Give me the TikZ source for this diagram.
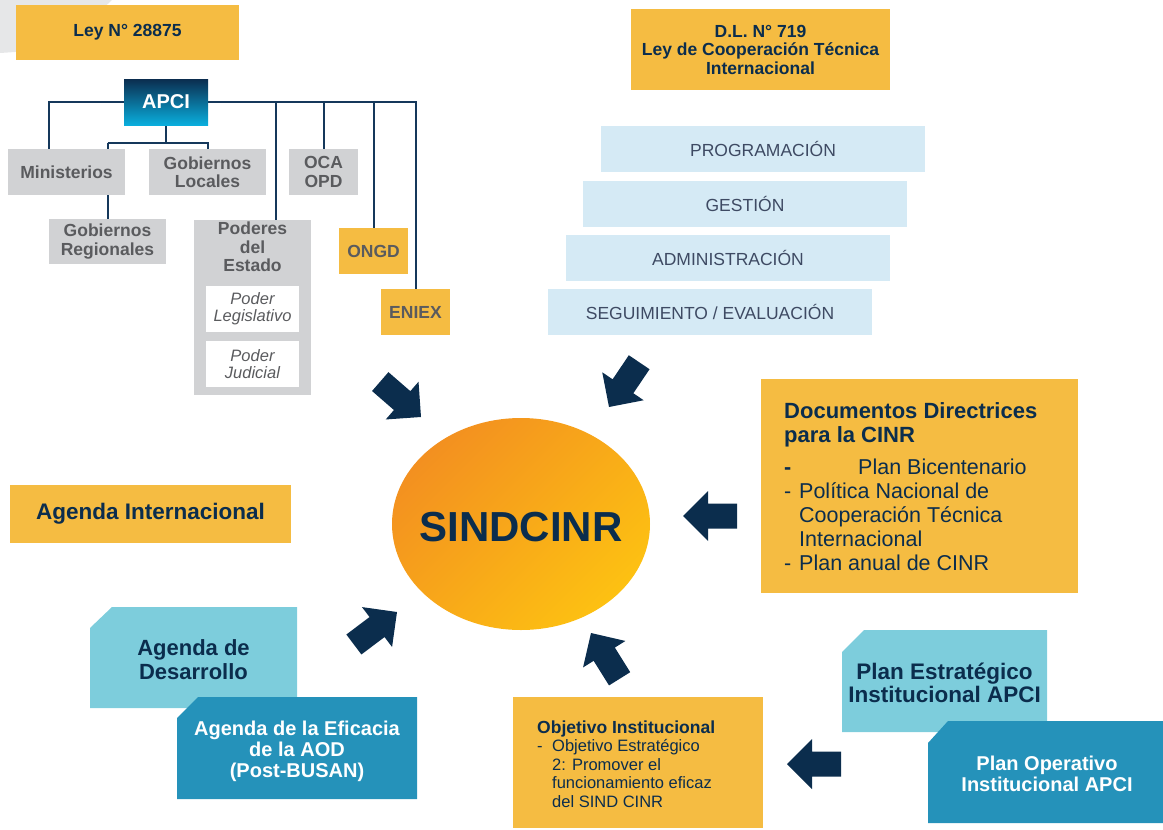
\documentclass[tikz,border=0pt]{standalone}
\usepackage{fontspec}
\setmainfont{Liberation Sans}
\usetikzlibrary{shapes.geometric}
\definecolor{ylw}{HTML}{F5BC42}
\definecolor{navy}{HTML}{0B2D4D}
\definecolor{grayb}{HTML}{D1D2D4}
\definecolor{grayt}{HTML}{5A5B5E}
\definecolor{lblue}{HTML}{D5EAF5}
\definecolor{lbtxt}{HTML}{3E4A63}
\definecolor{cyanl}{HTML}{7DCDDC}
\definecolor{cyand}{HTML}{2592BA}
\definecolor{bggray}{HTML}{E6E7E8}
\definecolor{linec}{HTML}{15385B}
\definecolor{ora}{HTML}{F39020}
\definecolor{yel}{HTML}{FDC112}
\definecolor{apcitop}{HTML}{0B2D4F}
\definecolor{apcibot}{HTML}{0AAEDD}
\pgfdeclarelayer{bg}
\pgfsetlayers{bg,main}
\begin{document}
\begin{tikzpicture}[x=1pt,y=-1pt,
  box/.style={inner sep=0pt, align=center},
  ybox/.style={box, fill=ylw},
  gbox/.style={box, fill=grayb, text=grayt},
  lbox/.style={box, fill=lblue, text=lbtxt, minimum width=324pt, minimum height=46pt, font=\fontsize{17.5}{19}\selectfont},
  tree/.style={draw=linec, line width=2pt},
  fbold/.style={font=\fontsize{17.5}{18.5}\selectfont\bfseries},
  barrow/.pic={\fill[navy] (0,0) -- (-25,25) -- (-25,12.5) -- (-54,12.5) -- (-54,-12.5) -- (-25,-12.5) -- (-25,-25) -- cycle;}
]
\useasboundingbox (0,0) rectangle (1163,830);
\fill[bggray] (0,0) -- (112,0) -- (60,49) -- (0,53) -- cycle;

% top-left tree
\node[ybox, minimum width=223pt, minimum height=55pt, text=navy, fbold] (ley) at (127.5,32.5) {Ley N° 28875};
\node[box, minimum width=84pt, minimum height=46pt, top color=apcitop, bottom color=apcibot, text=white, font=\fontsize{20}{22}\selectfont\bfseries] (apci) at (166,102) {APCI};
\node[gbox, minimum width=117pt, minimum height=46pt, fbold] (min) at (66.5,172) {Ministerios};
\node[gbox, minimum width=117pt, minimum height=46pt, fbold] (gobl) at (207.5,172) {Gobiernos\\Locales};
\node[gbox, minimum width=69pt, minimum height=46pt, fbold] (oca) at (323.5,172) {OCA\\OPD};
\node[gbox, minimum width=117pt, minimum height=45pt, fbold] (gobr) at (107.5,241.5) {Gobiernos\\Regionales};
\node[gbox, minimum width=117pt, minimum height=175pt] (pod) at (252.5,307.5) {};
\node[box, text=grayt, fbold] (podt) at (252.5,247) {Poderes\\del\\Estado};
\node[box, fill=white, text=grayt, minimum width=93pt, minimum height=46pt, font=\fontsize{16.5}{17}\selectfont\itshape] (leg) at (252.5,309) {Poder\\Legislativo};
\node[box, fill=white, text=grayt, minimum width=93pt, minimum height=46pt, font=\fontsize{16.5}{17}\selectfont\itshape] (jud) at (252.5,364) {Poder\\Judicial};
\node[ybox, text=grayt, minimum width=69pt, minimum height=46pt, fbold] (ongd) at (373.5,251) {ONGD};
\node[ybox, text=grayt, minimum width=69pt, minimum height=46pt, fbold] (eniex) at (415.5,312) {ENIEX};

\begin{pgfonlayer}{bg}
\draw[tree] (apci.west) -| ([xshift=-17.5pt]min.north);
\draw[tree] (apci.east) -| (eniex.north);
\draw[tree] (apci.east -| ongd.north) -- (ongd.north);
\draw[tree] (apci.east -| oca.north) -- (oca.north);
\draw[tree] ([xshift=23.5pt]pod.north |- apci.east) -- ([xshift=23.5pt]pod.north);
\draw[tree] (apci.south) -- ++(0,18) coordinate (fork);
\draw[tree] (fork -| gobr.north) -- (fork -| gobl.north) -- (gobl.north);
\draw[tree] (fork -| gobr.north) -- (gobr.north);
\end{pgfonlayer}

% top-right
\node[ybox, minimum width=259pt, minimum height=81pt, text=navy, fbold] (dl) at (760.5,49.5) {D.L. N° 719\\Ley de Cooperación Técnica\\Internacional};
\node[lbox] (prog) at (763,149) {PROGRAMACIÓN};
\node[lbox] (gest) at (745,204) {GESTIÓN};
\node[lbox] (adm) at (728,258) {ADMINISTRACIÓN};
\node[lbox] (seg) at (710,312) {SEGUIMIENTO / EVALUACIÓN};

% right documents
\node[ybox, minimum width=317pt, minimum height=214pt] (doc) at (919.5,486) {};
\node[anchor=north west, inner sep=0pt, text=navy, align=left, font=\fontsize{22}{24}\selectfont\bfseries] (doct) at (784,402) {Documentos Directrices\\para la CINR};
\node[anchor=north west, inner sep=0pt, text=navy, align=left, font=\fontsize{21.5}{24}\selectfont] (docl) at (784,458.5) {\makebox[74pt][l]{\bfseries -}Plan Bicentenario\\\makebox[15pt][l]{-}Política Nacional de\\\hspace*{15pt}Cooperación Técnica\\\hspace*{15pt}Internacional\\\makebox[15pt][l]{-}Plan anual de CINR};

% left agenda
\node[ybox, minimum width=281pt, minimum height=58pt, text=navy, font=\fontsize{22.5}{24}\selectfont\bfseries] (agi) at (150.5,514) {Agenda Internacional};

% center
\node[ellipse, minimum width=258pt, minimum height=212pt, inner sep=0pt, top color=ora, bottom color=yel, shading angle=45] (sind) at (521,524) {};
\node[inner sep=0pt, text=navy, font=\fontsize{42}{44}\selectfont\bfseries] (sindt) at (521,527) {SINDCINR};

% bottom-left
\fill[cyanl] (90,628) -- (112,607) -- (297,607) -- (297,708) -- (90,708) -- cycle;
\node[box, text=navy, font=\fontsize{22}{24}\selectfont\bfseries] (agd) at (193.5,660) {Agenda de\\Desarrollo};
\fill[cyand] (177,718) -- (198,697) -- (417,697) -- (417,799) -- (177,799) -- cycle;
\node[box, text=white, font=\fontsize{20}{21}\selectfont\bfseries] (age) at (297,751) {Agenda de la Eficacia\\de la AOD\\(Post-BUSAN)};

% bottom-right
\fill[cyanl] (842,652) -- (864,630) -- (1047,630) -- (1047,732) -- (842,732) -- cycle;
\node[box, text=navy, font=\fontsize{22.5}{22.5}\selectfont\bfseries] (pe) at (944.5,683) {Plan Estratégico\\Institucional APCI};
\fill[cyand] (928,743) -- (948,721) -- (1163,721) -- (1163,823) -- (928,823) -- cycle;
\node[box, text=white, font=\fontsize{20}{21}\selectfont\bfseries] (po) at (1047,774) {Plan Operativo\\Institucional APCI};

\node[ybox, minimum width=250pt, minimum height=131pt] (obj) at (638,762.5) {};
\node[anchor=north west, inner sep=0pt, text=navy, align=left, font=\fontsize{16.5}{18.5}\selectfont] (objt) at (537,720.5) {{\bfseries\fontsize{17.5}{18.5}\selectfont Objetivo Institucional}\\\makebox[15pt][l]{-}Objetivo Estratégico\\\hspace*{15pt}2: Promover el\\\hspace*{15pt}funcionamiento eficaz\\\hspace*{15pt}del SIND CINR};

% arrows
\pic[rotate=-41] at (421,417) {barrow};
\pic[rotate=-124] at (609,407) {barrow};
\pic[rotate=180] at (683,516) {barrow};
\pic[rotate=180] at (787,764) {barrow};
\pic[rotate=122] at (591,633) {barrow};
\pic[rotate=37] at (397,612) {barrow};
\end{tikzpicture}
\end{document}
